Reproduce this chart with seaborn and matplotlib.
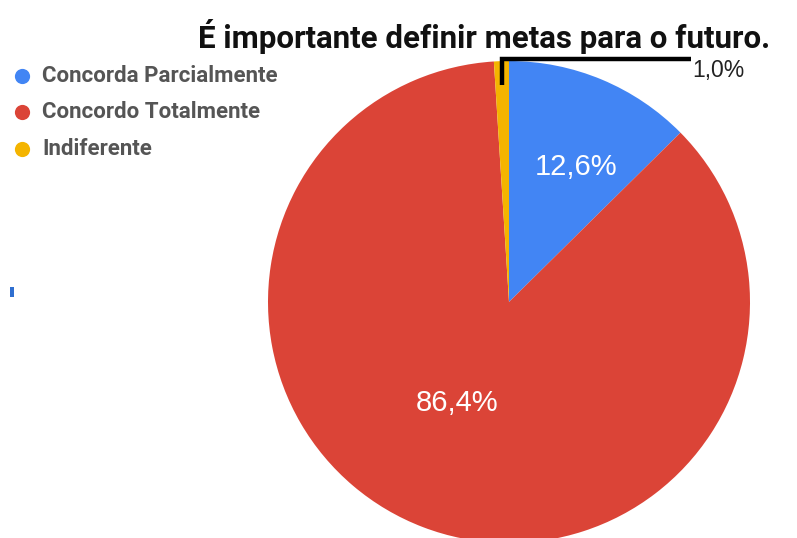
import numpy as np
import matplotlib
matplotlib.use("Agg")
import matplotlib.pyplot as plt
import seaborn as sns
from matplotlib.patches import Rectangle

categories = ["Concorda Parcialmente", "Concordo Totalmente", "Indiferente"]
values = [12.6, 86.4, 1.0]
value_labels = ["12,6%", "86,4%", "1,0%"]
colors = ["#4285F4", "#DB4437", "#F4B400"]
title = "É importante definir metas para o futuro."

sns.set_theme(style="white")
plt.rcParams["font.family"] = ["Roboto", "DejaVu Sans"]

W, H = 797, 538
fig = plt.figure(figsize=(W / 100, H / 100), dpi=100)
ax = fig.add_axes([0, 0, 1, 1])

cx, cy, r = 509, H - 302, 241
wedges, _ = ax.pie(values, colors=colors, startangle=90, counterclock=False,
                   center=(cx, cy), radius=r, frame=True,
                   wedgeprops=dict(linewidth=0))
ax.set_xlim(0, W)
ax.set_ylim(0, H)
ax.set_aspect("equal")
ax.axis("off")

# inside labels
label_pos = {0: (576, H - 167), 1: (457, H - 403)}
for i, lab in enumerate(value_labels[:2]):
    x, y = label_pos[i]
    ax.text(x, y, lab, color="white", fontsize=21, family="Liberation Sans",
            ha="center", va="center")

# leader for small slice
w = wedges[2]
ang = np.deg2rad((w.theta1 + w.theta2) / 2)
x0 = cx + r * 0.9 * np.cos(ang)
y0 = cy + r * 0.9 * np.sin(ang)
ytop = H - 59
ax.plot([x0, x0, 691], [y0, ytop, ytop], color="black", lw=3.2,
        solid_capstyle="butt", solid_joinstyle="miter")
ax.text(692, H - 70, value_labels[2], color="#222222", fontsize=16.5,
        family="Liberation Sans", ha="left", va="center")

# title
ax.text(484, H - 36, title, fontsize=22.5, fontweight="bold", color="#111111",
        ha="center", va="center")

# legend
leg_y = [76, 112, 149]
for c, lab, yy in zip(colors, categories, leg_y):
    ax.scatter([22], [H - yy], s=120, color=c, linewidths=0)
    ax.text(42, H - yy, lab, fontsize=16, fontweight="bold", color="#555555",
            ha="left", va="center")

# small blue mark at the left edge
ax.add_patch(Rectangle((10, H - 297), 4, 10, color="#2f6fd0", lw=0))

fig.savefig("out.png", dpi=100)
